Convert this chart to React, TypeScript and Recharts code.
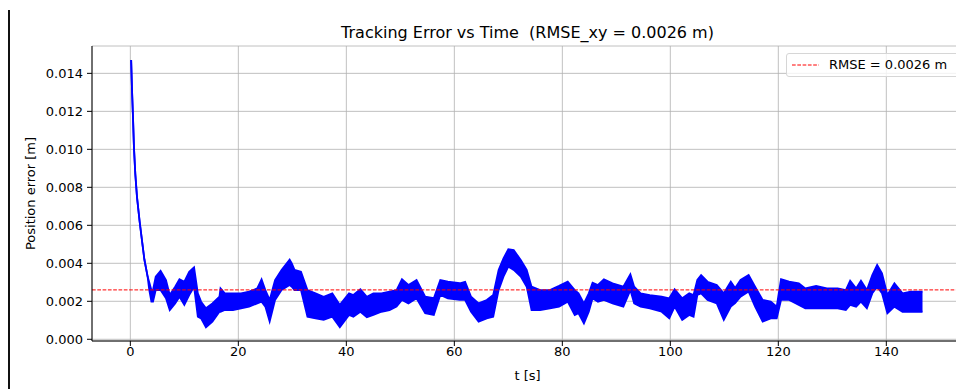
import { ComposedChart, Area, XAxis, YAxis, CartesianGrid, ReferenceLine, Label } from "recharts";

// samples of the error trace: time [s], lower and upper edge of the noisy band [m]
const time = [
  0.15, 0.3, 0.49, 0.67, 0.92, 1.23, 1.72, 2.2, 2.6, 3.2, 3.5,
  3.9, 4.2, 4.7, 5.6, 6.6, 7.3, 8.3, 9.1, 10, 10.9, 11.8, 12.5, 13.1, 14, 15.2, 16.5, 16.7, 17.5, 19,
  20.5, 22, 23.5, 24.3, 25, 25.8, 26.8, 28, 29.5, 29.9, 30.4, 31.6, 32.8, 34.3, 35.8, 37.4, 38.8,
  40.5, 41.3, 42.6, 43.8, 45, 46.5, 48, 49.3, 50.3, 51.5, 53, 54.6, 56.2, 57.4, 58.8,
  61, 62, 63.1, 64.5, 66, 67.2, 68.2, 69.1, 70, 71, 72.3, 73.4, 74.3, 75.9, 77.7, 79.4,
  81, 82.3, 83, 84, 84.9, 85.6, 86.6, 87.7, 89.3, 91.3, 92.6, 93.3, 94.5, 96.2, 98.4, 99.8,
  100.8, 102.2, 103.5, 104.3, 105, 105.7, 106.9, 108.6, 109.9, 111.2, 112, 113, 114.5, 115.7, 117.1, 118.6, 119.7,
  120.5, 122, 123.8, 125, 127, 129, 131, 132.5, 133.3, 134.4, 135.3, 136.4, 137.4, 138.3, 139.2,
  140.2, 141.5, 143, 144.5, 146.7,
];

const lower = [
  0.0147, 0.0132, 0.0117, 0.0101, 0.0087, 0.0075, 0.0062, 0.0051, 0.0042, 0.0033, 0.0026,
  0.00198, 0.00198, 0.00259, 0.00259, 0.00216, 0.00154, 0.00189, 0.00224, 0.00181, 0.00233, 0.00277, 0.00119, 0.0011, 0.00063, 0.00093, 0.00145, 0.00145, 0.00154, 0.00154,
  0.00163, 0.00172, 0.00189, 0.00198, 0.00172, 0.00093, 0.00207, 0.00259, 0.00286, 0.00277, 0.00259, 0.00259, 0.00119, 0.0011, 0.00102, 0.00119, 0.00063,
  0.00128, 0.00119, 0.00145, 0.00116, 0.00128, 0.00145, 0.00154, 0.00172, 0.00207, 0.00189, 0.00216, 0.00137, 0.00128, 0.00233, 0.00216,
  0.00207, 0.00207, 0.00145, 0.00093, 0.0011, 0.00119, 0.00259, 0.0033, 0.00383, 0.00365, 0.0033, 0.00277, 0.00154, 0.00154, 0.00163, 0.00172,
  0.00198, 0.00128, 0.00137, 0.00084, 0.00145, 0.00216, 0.00198, 0.00207, 0.00189, 0.00172, 0.00259, 0.00189, 0.00172, 0.00163, 0.00145, 0.0011,
  0.00172, 0.00102, 0.00128, 0.00119, 0.00233, 0.00242, 0.00207, 0.00189, 0.00102, 0.00172, 0.0019, 0.00224, 0.00251, 0.00172, 0.00093, 0.0011, 0.0011,
  0.00207, 0.00207, 0.00181, 0.00163, 0.00163, 0.00163, 0.00163, 0.00154, 0.00181, 0.00172, 0.00198, 0.00163, 0.00242, 0.00277, 0.00242,
  0.00137, 0.00172, 0.00145, 0.00145, 0.00145,
];

const upper = [
  0.0147, 0.0132, 0.0117, 0.0101, 0.0087, 0.0075, 0.0062, 0.0051, 0.0042, 0.0033, 0.003,
  0.00259, 0.0026, 0.0033, 0.00361, 0.00312, 0.00233, 0.00277, 0.00316, 0.00303, 0.00355, 0.00379, 0.00242, 0.00198, 0.00163, 0.00189, 0.00224, 0.00268, 0.00242, 0.00242,
  0.00242, 0.00251, 0.00268, 0.00316, 0.00259, 0.00207, 0.00312, 0.00365, 0.0042, 0.004, 0.00365, 0.00355, 0.00259, 0.00242, 0.00224, 0.00242, 0.00181,
  0.00242, 0.00233, 0.00263, 0.00224, 0.00242, 0.00242, 0.00251, 0.00259, 0.00316, 0.00286, 0.00312, 0.00224, 0.00216, 0.00312, 0.00303,
  0.00295, 0.00303, 0.00224, 0.00189, 0.00207, 0.00233, 0.00365, 0.00426, 0.00474, 0.0047, 0.00417, 0.00365, 0.00277, 0.00259, 0.00259, 0.00281,
  0.00303, 0.00259, 0.00242, 0.00189, 0.00242, 0.00298, 0.00286, 0.00316, 0.00295, 0.00277, 0.00342, 0.00277, 0.00242, 0.00233, 0.00224, 0.00216,
  0.00263, 0.00216, 0.00242, 0.00233, 0.00312, 0.00338, 0.00303, 0.00286, 0.00242, 0.00303, 0.0027, 0.00312, 0.00338, 0.00277, 0.00207, 0.00198, 0.00172,
  0.00316, 0.00303, 0.00295, 0.00268, 0.00281, 0.00268, 0.00268, 0.00259, 0.00308, 0.00268, 0.00308, 0.00259, 0.00338, 0.00391, 0.00347,
  0.00233, 0.00295, 0.00242, 0.00251, 0.00251,
];

const xTicks = [0, 20, 40, 60, 80, 100, 120, 140];
const yTicks = [0, 0.002, 0.004, 0.006, 0.008, 0.01, 0.012, 0.014];
const rmse = 0.0026;

const rows = time.map((t, i) => ({ t, band: [lower[i], upper[i]] }));

const font = "DejaVu Sans, sans-serif";

export default function App() {
  return (
    <div style={{ position: "fixed", left: 0, top: 0, width: 956, height: 389, overflow: "hidden", background: "#fff", fontFamily: font }}>
      {/* left edge line of the screenshot */}
      <div style={{ position: "absolute", left: 8, top: 10, width: 2, height: 379, background: "#111" }} />

      <div style={{ position: "absolute", left: 0, top: 23, width: 1055, textAlign: "center", fontSize: 16, color: "#000", whiteSpace: "pre" }}>
        {"Tracking Error vs Time  (RMSE_xy = 0.0026 m)"}
      </div>

      <div style={{ position: "absolute", left: 0, top: 0 }}>
        <ComposedChart width={1000} height={389} data={rows} margin={{ top: 46, right: 37, left: 0, bottom: 0 }}>
          <CartesianGrid stroke="#b0b0b0" strokeWidth={0.8} />
          <XAxis
            dataKey="t"
            type="number"
            domain={[-7.1, 154.2]}
            allowDataOverflow
            ticks={xTicks}
            height={48}
            tickSize={5}
            tickMargin={1}
            stroke="#000"
            tick={{ fill: "#000", fontSize: 13, fontFamily: font }}
            axisLine={{ stroke: "#000", strokeWidth: 1 }}
          >
            <Label value="t [s]" position="insideBottom" offset={9} style={{ fill: "#000", fontSize: 13, fontFamily: font }} />
          </XAxis>
          <XAxis xAxisId="top" orientation="top" dataKey="t" type="number" domain={[-7.1, 154.2]} height={0} tick={false} tickLine={false} axisLine={{ stroke: "#000" }} />
          <YAxis
            type="number"
            domain={[-0.00009, 0.01544]}
            allowDataOverflow
            ticks={yTicks}
            width={92}
            tickSize={5}
            tickMargin={4}
            stroke="#000"
            tickFormatter={(v: number) => v.toFixed(3)}
            tick={{ fill: "#000", fontSize: 13, fontFamily: font }}
            axisLine={{ stroke: "#000", strokeWidth: 1 }}
          >
            <Label value="Position error [m]" angle={-90} position="insideLeft" offset={30} style={{ fill: "#000", fontSize: 13, fontFamily: font, textAnchor: "middle" }} />
          </YAxis>
          <Area
            dataKey="band"
            type="linear"
            stroke="#0000ff"
            strokeWidth={1.8}
            fill="#0000ff"
            fillOpacity={1}
            isAnimationActive={false}
            dot={false}
            activeDot={false}
          />
          <ReferenceLine y={rmse} stroke="#ff0000" strokeWidth={1} strokeDasharray="3.7 1.6" />
        </ComposedChart>
      </div>

      {/* legend */}
      <div style={{ position: "absolute", left: 786, top: 53, width: 178, height: 24, boxSizing: "border-box", border: "1px solid #d6d6d6", borderRadius: 3, background: "rgba(255,255,255,0.8)" }}>
        <svg width={30} height={22} style={{ position: "absolute", left: 3, top: 0 }}>
          <line x1={2} y1={11} x2={29} y2={11} stroke="#ff0000" strokeWidth={1} strokeDasharray="3.7 1.6" />
        </svg>
        <span style={{ position: "absolute", left: 42, top: 3, fontSize: 13, color: "#000", whiteSpace: "pre" }}>RMSE = 0.0026 m</span>
      </div>
    </div>
  );
}
